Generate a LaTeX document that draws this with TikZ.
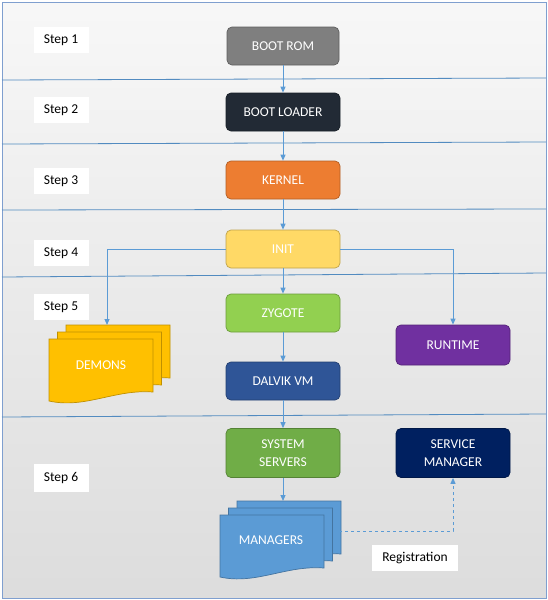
\documentclass[tikz,border=0pt]{standalone}
\usepackage{fontspec}
\setmainfont{Carlito}
\usepackage{xcolor}
\usepackage{tikz}
\usetikzlibrary{arrows.meta,positioning}

\definecolor{romgray}{HTML}{7F7F7F}
\definecolor{loaderdark}{HTML}{222A35}
\definecolor{kernelorange}{HTML}{ED7D31}
\definecolor{inityellow}{HTML}{FFD966}
\definecolor{zygotegreen}{HTML}{92D050}
\definecolor{dalvikblue}{HTML}{2F5597}
\definecolor{sysgreen}{HTML}{70AD47}
\definecolor{servnavy}{HTML}{002060}
\definecolor{runtimepurple}{HTML}{7030A0}
\definecolor{demonsgold}{HTML}{FFC000}
\definecolor{mgrblue}{HTML}{5B9BD5}
\definecolor{linkblue}{HTML}{5B9BD5}
\definecolor{frameblue}{HTML}{7F9FCF}

\newcommand{\txt}{\fontsize{13.5}{18}\selectfont}

% one sheet of a stacked document, top left corner at (#1,#2)
\newcommand{\docsheet}[3]{%
  \filldraw[fill=#3, draw=#3!75!black, line width=0.7pt]
    (#1,#2) -- ({#1+104},#2) -- ({#1+104},{#2+53})
    .. controls ({#1+66},{#2+50}) and ({#1+36},{#2+70}) .. ({#1},{#2+62}) -- cycle;}
\newcommand{\docstack}[3]{%
  \foreach \k in {2,1,0} {\docsheet{#1+8.5*\k}{#2-7*\k}{#3}}}

\tikzset{
  stage/.style={rectangle, rounded corners=5pt, fill=#1, draw=#1!75!black,
    line width=0.7pt, minimum width=114pt, minimum height=38pt,
    text=white, align=center, font=\txt},
  steplabel/.style={rectangle, fill=white, minimum width=55pt,
    minimum height=26pt, text=black, font=\txt},
  sheettext/.style={text=white, font=\txt},
  link/.style={draw=linkblue, line width=1pt, -{Triangle[length=6pt,width=5pt]}},
  sepline/.style={draw=linkblue!90!black, line width=0.8pt}
}

\begin{document}
\begin{tikzpicture}[x=1pt, y=-1pt]
  \useasboundingbox (0,0) rectangle (548,600);
  \shade[top color=gray!6, bottom color=gray!27] (2,2) rectangle (546,598);
  \draw[frameblue, line width=0.8pt] (2,2) rectangle (546,598);

  \draw[sepline] (2,80) -- (546,78);
  \draw[sepline] (2,144) -- (546,142);
  \draw[sepline] (2,210) -- (546,209);
  \draw[sepline] (2,277) -- (546,273);
  \draw[sepline] (2,417) -- (546,414);

  \node[steplabel] (step1) at (61,40) {Step 1};
  \node[steplabel] (step2) at (61,110) {Step 2};
  \node[steplabel] (step3) at (61,181) {Step 3};
  \node[steplabel] (step4) at (61,253) {Step 4};
  \node[steplabel] (step5) at (61,307) {Step 5};
  \node[steplabel, minimum height=28pt] (step6) at (61,478) {Step 6};

  \node[stage=romgray, minimum width=112pt] (bootrom) at (283,46) {BOOT ROM};
  \node[stage=loaderdark] (bootloader) at (283,112) {BOOT LOADER};
  \node[stage=kernelorange] (kernel) at (283,180) {KERNEL};
  \node[stage=inityellow] (init) at (283,249) {INIT};
  \node[stage=zygotegreen] (zygote) at (283,313) {ZYGOTE};
  \node[stage=dalvikblue] (dalvik) at (283,381) {DALVIK VM};
  \node[stage=sysgreen, minimum height=49pt] (sysservers) at (283,453) {SYSTEM\\SERVERS};
  \node[stage=servnavy, minimum height=49pt] (servicemgr) at (453,453) {SERVICE\\MANAGER};
  \node[stage=runtimepurple, minimum height=40pt] (runtime) at (453,345) {RUNTIME};

  \docstack{49}{339}{demonsgold}
  \node[sheettext] (demons) at (101,365) {DEMONS};
  \coordinate (demonstop) at (107,325);

  \docstack{220}{515}{mgrblue}
  \node[sheettext] (managers) at (271,540) {MANAGERS};
  \coordinate (managerstop) at (283,501);
  \coordinate (managersright) at (339,531);

  \node[steplabel, minimum width=86pt] (registration) at (415,558) {Registration};

  \draw[link] (bootrom) -- (bootloader);
  \draw[link] (bootloader) -- (kernel);
  \draw[link] (kernel) -- (init);
  \draw[link] (init) -- (zygote);
  \draw[link] (zygote) -- (dalvik);
  \draw[link] (dalvik) -- (sysservers);
  \draw[link] (sysservers) -- (managerstop);
  \draw[link] (init.west) -| (demonstop);
  \draw[link] (init.east) -| (runtime.north);
  \draw[link, dashed] (managersright) -| (servicemgr.south);
\end{tikzpicture}
\end{document}
